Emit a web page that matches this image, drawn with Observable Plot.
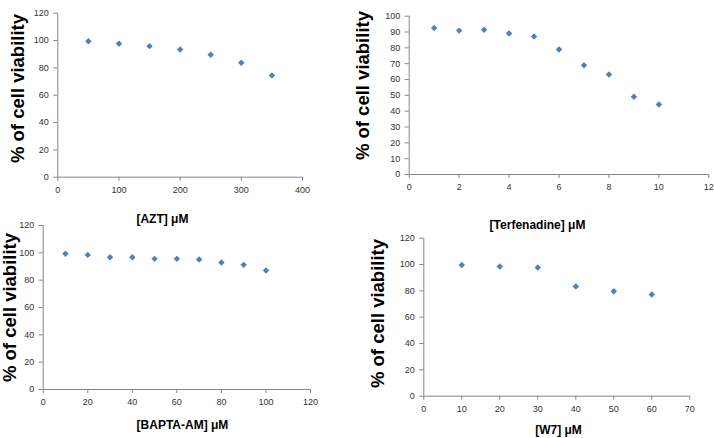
<!DOCTYPE html>
<html><head><meta charset="utf-8">
<script src="https://cdn.jsdelivr.net/npm/d3@7"></script>
<script src="https://cdn.jsdelivr.net/npm/@observablehq/plot@0.6"></script>
<style>
body{margin:0;background:#fff;}
#wrap{position:relative;width:714px;height:438px;overflow:hidden;font-family:Arial,"Liberation Sans",sans-serif;}
#wrap svg{position:absolute;background:transparent;overflow:visible;}
</style></head><body><div id="wrap"></div>
<script>
// ---- data ----
const yLabel = "% of cell viability";

const aztConc = [50, 100, 150, 200, 250, 300, 350];
const aztViability = [99.5, 97.6, 95.9, 93.5, 89.6, 83.8, 74.5];
const aztXTicks = [0, 100, 200, 300, 400];
const aztYTicks = [0, 20, 40, 60, 80, 100, 120];
const aztTitle = "[AZT] μM";

const terfConc = [1, 2, 3, 4, 5, 6, 7, 8, 9, 10];
const terfViability = [92.6, 90.9, 91.4, 89.1, 87.2, 79.0, 69.0, 63.2, 49.1, 44.2];
const terfXTicks = [0, 2, 4, 6, 8, 10, 12];
const terfYTicks = [0, 10, 20, 30, 40, 50, 60, 70, 80, 90, 100];
const terfTitle = "[Terfenadine] μM";

const baptaConc = [10, 20, 30, 40, 50, 60, 70, 80, 90, 100];
const baptaViability = [99.3, 98.5, 96.8, 96.8, 95.6, 95.6, 95.1, 92.9, 91.2, 87.1];
const baptaXTicks = [0, 20, 40, 60, 80, 100, 120];
const baptaYTicks = [0, 20, 40, 60, 80, 100, 120];
const baptaTitle = "[BAPTA-AM] μM";

const w7Conc = [10, 20, 30, 40, 50, 60];
const w7Viability = [99.7, 98.5, 97.7, 83.3, 79.7, 77.2];
const w7XTicks = [0, 10, 20, 30, 40, 50, 60, 70];
const w7YTicks = [0, 20, 40, 60, 80, 100, 120];
const w7Title = "[W7] μM";

// ---- layout ----
const panels = [
  {xs: aztConc, ys: aztViability, xt: aztXTicks, yt: aztYTicks, title: aztTitle,
   left: 0, top: 0, width: 357, height: 232, ml: 57.3, mr: 55, mt: 12.7, mb: 55.3,
   ylDx: -40, ylDy: -6.7, tDx: -17.7, tDy: 42.3},
  {xs: terfConc, ys: terfViability, xt: terfXTicks, yt: terfYTicks, title: terfTitle,
   left: 350, top: 0, width: 364, height: 238, ml: 58.7, mr: 5.7, mt: 15.7, mb: 64,
   ylDx: -45.7, ylDy: -9.8, tDx: -21.5, tDy: 51},
  {xs: baptaConc, ys: baptaViability, xt: baptaXTicks, yt: baptaYTicks, title: baptaTitle,
   left: 0, top: 215, width: 357, height: 223, ml: 42.7, mr: 47, mt: 10, mb: 49,
   ylDx: -32.7, ylDy: 0, tDx: 5.6, tDy: 36},
  {xs: w7Conc, ys: w7Viability, xt: w7XTicks, yt: w7YTicks, title: w7Title,
   left: 350, top: 225, width: 364, height: 213, ml: 73.3, mr: 24.7, mt: 12.7, mb: 42.3,
   ylDx: -45.3, ylDy: -3.7, tDx: 1.7, tDy: 34.3}
];

const axisColor = "#868686";
const labelColor = "#333333";
const dotColor = "#4F81BD";
const wrap = document.getElementById("wrap");

for (const p of panels) {
  const data = p.xs.map((x, i) => ({x, y: p.ys[i]}));
  const xMax = p.xt[p.xt.length - 1];
  const yMax = p.yt[p.yt.length - 1];
  const chart = Plot.plot({
    width: p.width, height: p.height,
    marginLeft: p.ml, marginRight: p.mr, marginTop: p.mt, marginBottom: p.mb,
    style: {fontFamily: "Arial, 'Liberation Sans', sans-serif", background: "transparent", overflow: "visible"},
    x: {domain: [0, xMax]},
    y: {domain: [0, yMax]},
    marks: [
      Plot.ruleX([0], {stroke: axisColor}),
      Plot.ruleY([0], {stroke: axisColor}),
      Plot.axisX(p.xt, {tickSize: 4, tickPadding: 5, fontSize: 9, stroke: axisColor, fill: labelColor, label: null}),
      Plot.axisY(p.yt, {tickSize: 4, tickPadding: 5, fontSize: 9, stroke: axisColor, fill: labelColor, label: null}),
      Plot.dot(data, {x: "x", y: "y", symbol: "diamond2", r: 2.9, fill: dotColor, stroke: null}),
      Plot.text([yLabel], {text: d => d, frameAnchor: "left", rotate: -90, dx: p.ylDx, dy: p.ylDy,
        fontSize: 18.5, fontWeight: "bold", fill: "#000", textAnchor: "middle", lineAnchor: "middle"}),
      Plot.text([p.title], {text: d => d, frameAnchor: "bottom", dx: p.tDx, dy: p.tDy,
        fontSize: 12, fontWeight: "bold", fill: "#000", textAnchor: "middle", lineAnchor: "middle"})
    ]
  });
  chart.style.left = p.left + "px";
  chart.style.top = p.top + "px";
  wrap.appendChild(chart);
}
</script>
</body></html>
